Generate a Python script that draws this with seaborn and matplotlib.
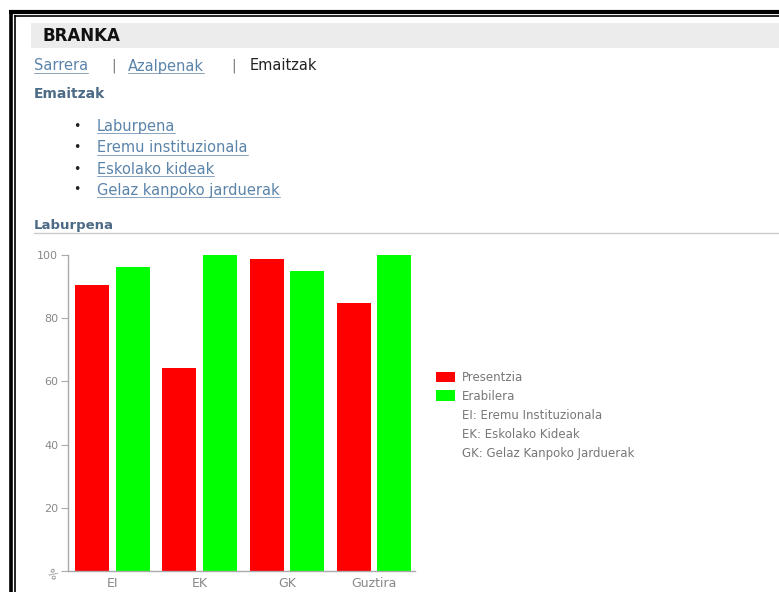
#setup
import pandas as pd
import numpy as np
import matplotlib.pyplot as plt
import seaborn as sns
from matplotlib.patches import Patch, Rectangle
from matplotlib.lines import Line2D

# chart data
groups = ["EI", "EK", "GK", "Guztira"]
presentzia = [90.5, 64.1, 98.6, 84.7]
erabilera = [96.3, 100, 95.0, 100]
series = ["Presentzia", "Erabilera"]
colors = ["#ff0000", "#00ff00"]
y_ticks = [0, 20, 40, 60, 80, 100]
y_labels = ["%", "20", "40", "60", "80", "100"]
notes = ["EI: Eremu Instituzionala", "EK: Eskolako Kideak", "GK: Gelaz Kanpoko Jarduerak"]

# page text
menu_items = ["Laburpena", "Eremu instituzionala", "Eskolako kideak", "Gelaz kanpoko jarduerak"]

W, H = 779, 592
sns.set_style("white")
plt.rcParams["font.family"] = ["DejaVu Sans"]

fig = plt.figure(figsize=(W / 100, H / 100), dpi=100)
fig.patch.set_facecolor("white")

def fx(x):
    return x / W

def fy(y):
    return 1 - y / H

def frame_line(xs, ys, lw):
    fig.add_artist(Line2D(xs, ys, color="black", lw=lw, solid_capstyle="butt"))

# double black frame on the top and left
frame_line([fx(9), 1], [fy(12), fy(12)], 3.0)
frame_line([fx(10.7), fx(10.7)], [fy(10), 0], 2.6)
frame_line([fx(14.4), 1], [fy(15.8), fy(15.8)], 1.2)
frame_line([fx(15), fx(15)], [fy(15.2), 0], 1.2)

# grey header band
fig.add_artist(Rectangle((fx(31), fy(48)), 1 - fx(31), (48 - 23) / H, color="#ececec", lw=0))
fig.text(fx(43), fy(36), "BRANKA", fontsize=12, fontweight="bold", color="#111111", va="center")

link_col = "#5b84aa"
head_col = "#4d6b86"
links = []

# navigation line
links.append(fig.text(fx(34), fy(66), "Sarrera", fontsize=10.5, color=link_col, va="center"))
fig.text(fx(111), fy(66), "|", fontsize=10, color="#777777", va="center")
links.append(fig.text(fx(128), fy(66), "Azalpenak", fontsize=10.5, color=link_col, va="center"))
fig.text(fx(231), fy(66), "|", fontsize=10, color="#777777", va="center")
fig.text(fx(250), fy(66), "Emaitzak", fontsize=10.5, color="#222222", va="center")

fig.text(fx(34), fy(94), "Emaitzak", fontsize=10, fontweight="bold", color=head_col, va="center")

# menu list
menu_y = [127, 148, 169, 190]
for item, y in zip(menu_items, menu_y):
    fig.text(fx(77), fy(y), "\u2022", fontsize=9, color="#222222", va="center", ha="center")
    links.append(fig.text(fx(97), fy(y), item, fontsize=10.5, color=link_col, va="center"))

fig.text(fx(34), fy(226), "Laburpena", fontsize=9.5, fontweight="bold", color=head_col, va="center")
fig.add_artist(Line2D([fx(34), 1], [fy(233), fy(233)], color="#cccccc", lw=1.0))

# underline the links using their drawn size
fig.canvas.draw()
inv = fig.transFigure.inverted()
for t in links:
    bb = t.get_window_extent().transformed(inv)
    yline = bb.y0 + 1.0 / H
    fig.add_artist(Line2D([bb.x0, bb.x1], [yline, yline], color="#8aa4bd", lw=0.7))

# bar chart
df = pd.DataFrame({
    "group": groups * 2,
    "serie": [series[0]] * len(groups) + [series[1]] * len(groups),
    "value": presentzia + erabilera,
})

ax = fig.add_axes([fx(68), fy(571), (415 - 68) / W, (571 - 255) / H])
sns.barplot(data=df, x="group", y="value", hue="serie", palette=colors,
            width=0.93, gap=0.16, saturation=1, linewidth=0, ax=ax, legend=False)
ax.set_xlim(-0.51, 3.47)
ax.set_ylim(0, 100)
ax.set_xlabel("")
ax.set_ylabel("")
ax.set_facecolor("white")
for s in ["top", "right"]:
    ax.spines[s].set_visible(False)
for s in ["left", "bottom"]:
    ax.spines[s].set_color("#aaaaaa")
    ax.spines[s].set_linewidth(1.0)
ax.set_yticks(y_ticks)
ax.set_yticklabels(y_labels)
ax.tick_params(axis="y", length=5, color="#aaaaaa", labelcolor="#888888", labelsize=8, pad=2, left=True)
ax.tick_params(axis="x", length=0, labelcolor="#888888", labelsize=9, pad=4)
ax.get_yticklabels()[0].set_rotation(-45)

# legend with the two series plus the abbreviations
handles = [Patch(facecolor=c, edgecolor="none") for c in colors]
handles += [Patch(facecolor="none", edgecolor="none") for _ in notes]
leg = ax.legend(handles, series + notes, loc="upper left",
                bbox_to_anchor=(fx(430), fy(365)), bbox_transform=fig.transFigure,
                frameon=False, fontsize=8.5, handlelength=1.6, handleheight=1.0,
                handletextpad=0.6, labelspacing=0.5, borderpad=0)
for t in leg.get_texts():
    t.set_color("#777777")

fig.savefig("out.png", dpi=100, facecolor="white")
